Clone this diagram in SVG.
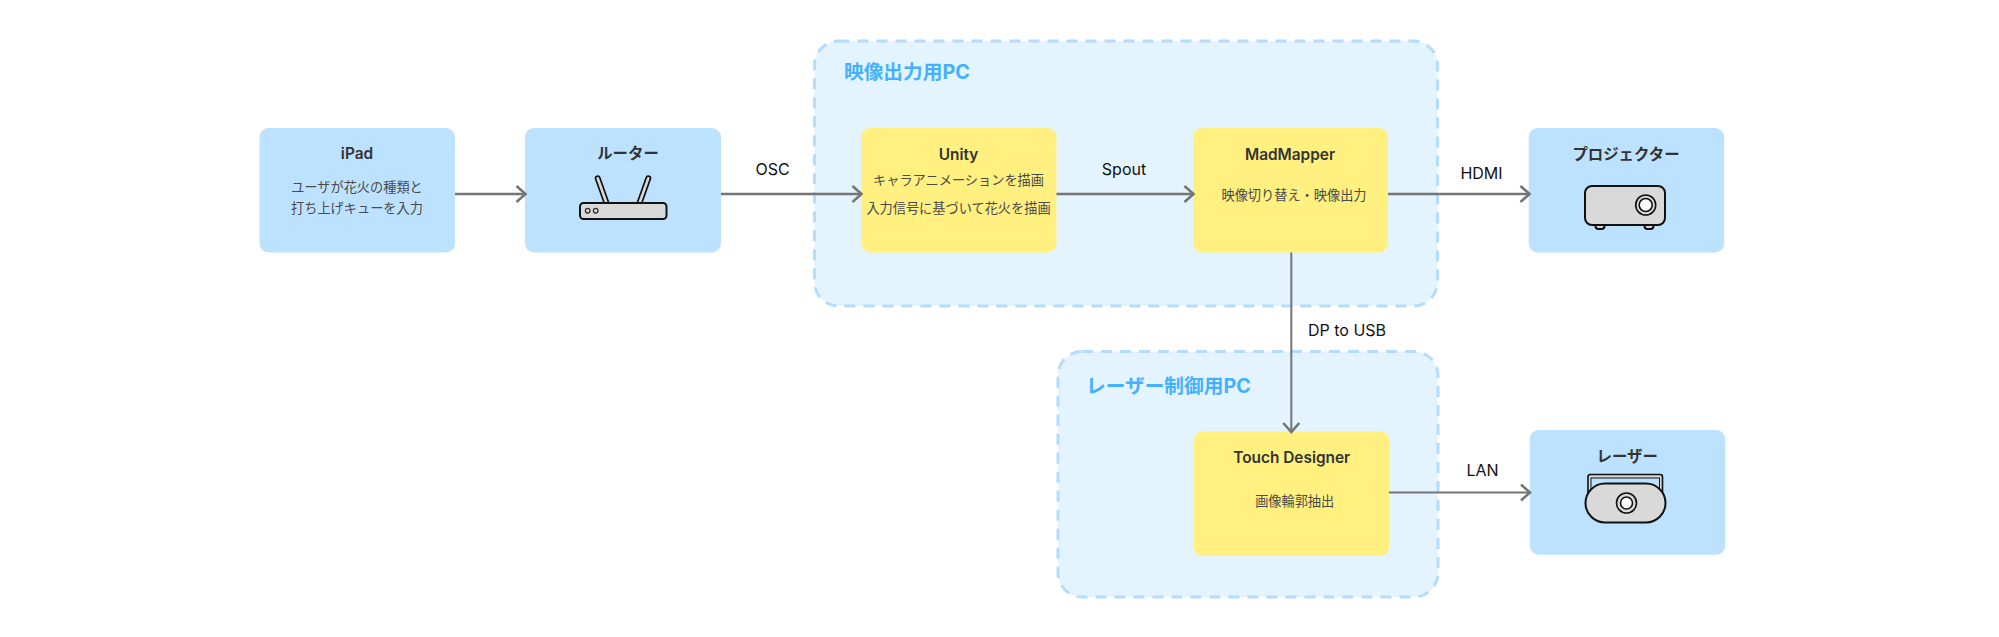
<svg xmlns="http://www.w3.org/2000/svg" width="1999" height="637" viewBox="0 0 1999 637">
<style>
text{font-family:Inter,"Noto Sans CJK JP",sans-serif;text-anchor:middle}
.blue{fill:#bde2ff}
.yellow{fill:#fff07f}
.group{fill:#e4f4ff;stroke:#b3dcff;stroke-width:3;stroke-dasharray:11 8}
.gt{font-size:19.7px;font-weight:700;fill:#45b0ff;text-anchor:start}
.t{font-size:15.4px;font-weight:600;fill:#333}
.b{font-size:13.2px;fill:#4a4a4a}
.l{font-size:16px;font-weight:400;fill:#111}
.c{fill:none;stroke:#757575;stroke-width:2.6}
.thin{stroke-width:2}
.ic{fill:#d9d9d9;stroke:#111;stroke-width:2;stroke-linejoin:round}
</style>
<defs>
<marker id="arrow" markerUnits="userSpaceOnUse" markerWidth="24" markerHeight="24" refX="20" refY="12" orient="auto" overflow="visible">
<path d="M11 4 L20 12 L11 20" fill="none" stroke="#757575" stroke-width="2.6"/>
</marker>
</defs>

<g id="group-video">
<rect class="group" x="814.5" y="41" width="623" height="265" rx="24"/>
<text class="gt" x="844" y="79">映像出力用PC</text>
</g>
<g id="group-laser">
<rect class="group" x="1058" y="351.5" width="380" height="245.5" rx="24"/>
<text class="gt" x="1086" y="393">レーザー制御用PC</text>
</g>

<g id="node-ipad">
<rect class="blue" x="259.5" y="128" width="195.5" height="124.5" rx="9"/>
<text class="t" x="357" y="159">iPad</text>
<text class="b" x="357" y="192">ユーザが花火の種類と</text>
<text class="b" x="357" y="213">打ち上げキューを入力</text>
</g>
<g id="node-router">
<rect class="blue" x="525" y="128" width="196" height="124.5" rx="9"/>
<text class="t" x="628" y="159">ルーター</text>
<path d="M597.7 178.3 L606.5 203 M648.3 178.3 L639.5 203" stroke="#111" stroke-width="6" stroke-linecap="round" fill="none"/>
<path d="M597.7 178.3 L606.5 203 M648.3 178.3 L639.5 203" stroke="#d9d9d9" stroke-width="2.6" stroke-linecap="round" fill="none"/>
<rect class="ic" x="580" y="203" width="86.5" height="16" rx="3.5"/>
<circle cx="587.7" cy="210.7" r="2.3" fill="#d9d9d9" stroke="#333" stroke-width="1.3"/>
<circle cx="595.7" cy="210.7" r="2.3" fill="#d9d9d9" stroke="#333" stroke-width="1.3"/>
</g>
<g id="node-unity">
<rect class="yellow" x="861" y="128" width="195.5" height="124.5" rx="9"/>
<text class="t" x="958.5" y="160">Unity</text>
<text class="b" x="958.5" y="185">キャラアニメーションを描画</text>
<text class="b" x="958.5" y="213">入力信号に基づいて花火を描画</text>
</g>
<g id="node-madmapper">
<rect class="yellow" x="1193" y="128" width="195" height="124.5" rx="9"/>
<text class="t" x="1290" y="160">MadMapper</text>
<text class="b" x="1294" y="200">映像切り替え・映像出力</text>
</g>
<g id="node-projector">
<rect class="blue" x="1528.7" y="128" width="195.5" height="124.5" rx="9"/>
<text class="t" x="1626" y="160">プロジェクター</text>
<rect class="ic" x="1595.5" y="222" width="9" height="7" rx="3"/>
<rect class="ic" x="1644.5" y="222" width="9" height="7" rx="3"/>
<rect class="ic" x="1585" y="186" width="80" height="39" rx="7"/>
<circle cx="1645.7" cy="205" r="10" fill="#d9d9d9" stroke="#111" stroke-width="1.6"/>
<circle cx="1645.7" cy="205" r="6.5" fill="#fff" stroke="#111" stroke-width="1.6"/>
</g>
<g id="node-touchdesigner">
<rect class="yellow" x="1193.7" y="431.5" width="195.5" height="124.5" rx="9"/>
<text class="t" x="1291.7" y="463">Touch Designer</text>
<text class="b" x="1294.7" y="506">画像輪郭抽出</text>
</g>
<g id="node-laser">
<rect class="blue" x="1529.7" y="430" width="195.5" height="124.7" rx="9"/>
<text class="t" x="1627.2" y="461.7">レーザー</text>
<rect x="1588" y="474.5" width="74.5" height="26" rx="2.5" fill="#d9d9d9" stroke="#111" stroke-width="1.6"/>
<rect x="1591" y="478" width="68.5" height="20" fill="#bde2ff" stroke="#111" stroke-width="1"/>
<rect class="ic" x="1585.5" y="483.5" width="80" height="39" rx="19.5"/>
<circle cx="1626.5" cy="503" r="10" fill="#d9d9d9" stroke="#111" stroke-width="1.6"/>
<circle cx="1626.5" cy="503" r="6" fill="#fff" stroke="#111" stroke-width="1.6"/>
</g>

<g id="connectors">
<line class="c" x1="455" y1="194" x2="525.5" y2="194" marker-end="url(#arrow)"/>
<line class="c" x1="721" y1="194" x2="861.5" y2="194" marker-end="url(#arrow)"/>
<line class="c" x1="1056.5" y1="194" x2="1193.5" y2="194" marker-end="url(#arrow)"/>
<line class="c" x1="1388" y1="194" x2="1529.5" y2="194" marker-end="url(#arrow)"/>
<line class="c thin" x1="1291.3" y1="252.5" x2="1291.3" y2="432" marker-end="url(#arrow)"/>
<line class="c thin" x1="1389" y1="492.5" x2="1530" y2="492.5" marker-end="url(#arrow)"/>
</g>
<g id="connector-labels">
<text class="l" x="772.5" y="175">OSC</text>
<text class="l" x="1124" y="174.5">Spout</text>
<text class="l" x="1481.5" y="178.5">HDMI</text>
<text class="l" x="1347" y="335.5">DP to USB</text>
<text class="l" x="1482.5" y="476">LAN</text>
</g>
</svg>
